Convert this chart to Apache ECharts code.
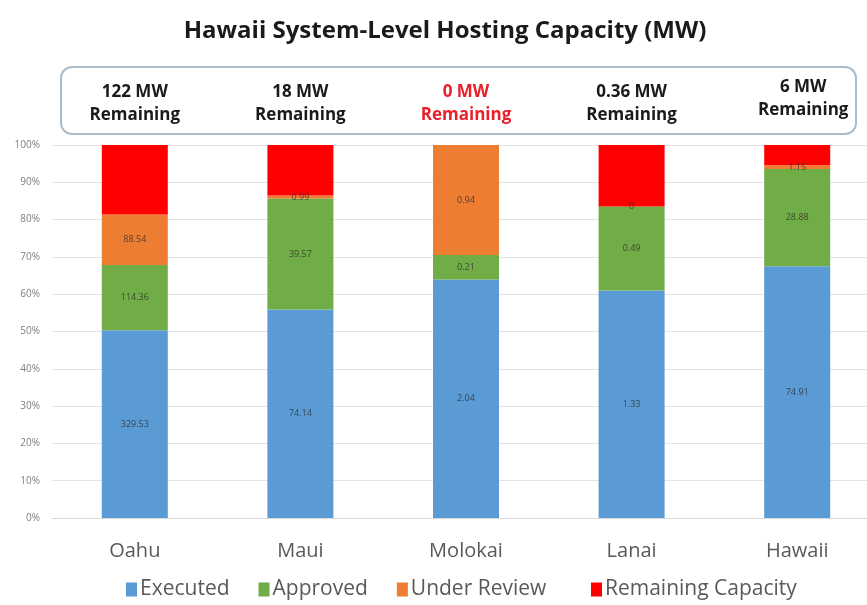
<!DOCTYPE html>
<html>
<head>
<meta charset="utf-8">
<title>Hawaii System-Level Hosting Capacity (MW)</title>
<script src="https://cdn.jsdelivr.net/npm/echarts@6/dist/echarts.min.js"></script>
<style>
  html, body { margin: 0; padding: 0; background: #ffffff; }
  #chart { width: 867px; height: 605px; }
</style>
</head>
<body>
<div id="chart"></div>
<script>
// Hosting capacity per island, in MW
const islands = ['Oahu', 'Maui', 'Molokai', 'Lanai', 'Hawaii'];
const executed = [329.53, 74.14, 2.04, 1.33, 74.91];
const approved = [114.36, 39.57, 0.21, 0.49, 28.88];
const underReview = [88.54, 0.99, 0.94, 0, 1.15];
const remaining = [122, 18, 0, 0.36, 6];
const remainingText = ['122', '18', '0', '0.36', '6'];
const percentTicks = [0, 10, 20, 30, 40, 50, 60, 70, 80, 90, 100];

const seriesNames = ['Executed', 'Approved', 'Under Review', 'Remaining Capacity'];
const seriesColors = ['#5b9bd5', '#70ad47', '#ed7d31', '#ff0000'];
const rawValues = [executed, approved, underReview, remaining];

// Each island is stacked to 100 %
const totals = islands.map((_, i) => rawValues.reduce((s, arr) => s + arr[i], 0));
const toPercent = arr => arr.map((v, i) => v / totals[i] * 100);

const FONT = '"Open Sans", "Noto Sans", sans-serif';

const chart = echarts.init(document.getElementById('chart'), null, { renderer: 'canvas' });

const series = rawValues.map((arr, k) => ({
  name: seriesNames[k],
  type: 'bar',
  stack: 'total',
  barWidth: 66,
  data: toPercent(arr),
  itemStyle: { color: seriesColors[k] },
  label: {
    show: k < 3,
    position: 'inside',
    fontFamily: FONT,
    fontSize: 9,
    color: 'rgba(40,40,40,0.75)',
    formatter: p => String(arr[p.dataIndex])
  },
  emphasis: { disabled: true }
}));

const legendBase = {
  bottom: 0,
  icon: 'rect',
  itemWidth: 11,
  itemHeight: 14,
  itemGap: 29,
  selectedMode: false,
  textStyle: { fontFamily: FONT, fontSize: 21, color: '#595959', padding: [0, 0, 0, -2] }
};

chart.setOption({
  animation: false,
  backgroundColor: '#ffffff',
  grid: { left: 52, width: 828, top: 145, bottom: 87, containLabel: false, outerBoundsMode: 'none' },
  legend: [
    Object.assign({ data: seriesNames.slice(0, 3), left: 121 }, legendBase),
    Object.assign({ data: seriesNames.slice(3), left: 586 }, legendBase)
  ],
  xAxis: {
    type: 'category',
    data: islands,
    axisTick: { show: false },
    axisLine: { lineStyle: { color: '#d9d9d9' } },
    axisLabel: { fontFamily: FONT, fontSize: 20, color: '#595959', margin: 23 }
  },
  yAxis: {
    type: 'value',
    min: percentTicks[0],
    max: percentTicks[percentTicks.length - 1],
    interval: percentTicks[1] - percentTicks[0],
    axisLine: { show: false },
    axisTick: { show: false },
    splitLine: { lineStyle: { color: '#e3e3e3', width: 1 } },
    axisLabel: { fontFamily: FONT, fontSize: 10, color: '#7f7f7f', margin: 12, formatter: '{value}%' }
  },
  series: series
});

// Header: title, rounded panel and the remaining-capacity callouts above each bar
function drawHeader() {
  const elements = [
    {
      type: 'text',
      x: 445, y: 31,
      style: {
        text: 'Hawaii System-Level Hosting Capacity (MW)',
        align: 'center', verticalAlign: 'middle',
        fontFamily: FONT, fontWeight: 'bold', fontSize: 24, fill: '#1a1a1a'
      }
    },
    {
      type: 'rect',
      shape: { x: 61, y: 67, width: 795, height: 67, r: 11 },
      style: { fill: '#ffffff', stroke: '#a9bccb', lineWidth: 2 }
    }
  ];
  islands.forEach((name, i) => {
    const px = chart.convertToPixel({ xAxisIndex: 0 }, name);
    const last = i === islands.length - 1;
    elements.push({
      type: 'text',
      x: last ? px + 6 : px,
      y: last ? 99 : 104,
      style: {
        text: remainingText[i] + ' MW\nRemaining',
        align: 'center', verticalAlign: 'middle',
        lineHeight: 23,
        fontFamily: FONT, fontWeight: 'bold', fontSize: 17,
        fill: remaining[i] === 0 ? '#e8202a' : '#1a1a1a'
      }
    });
  });
  chart.setOption({ graphic: { elements: elements } });
}
drawHeader();
</script>
</body>
</html>
